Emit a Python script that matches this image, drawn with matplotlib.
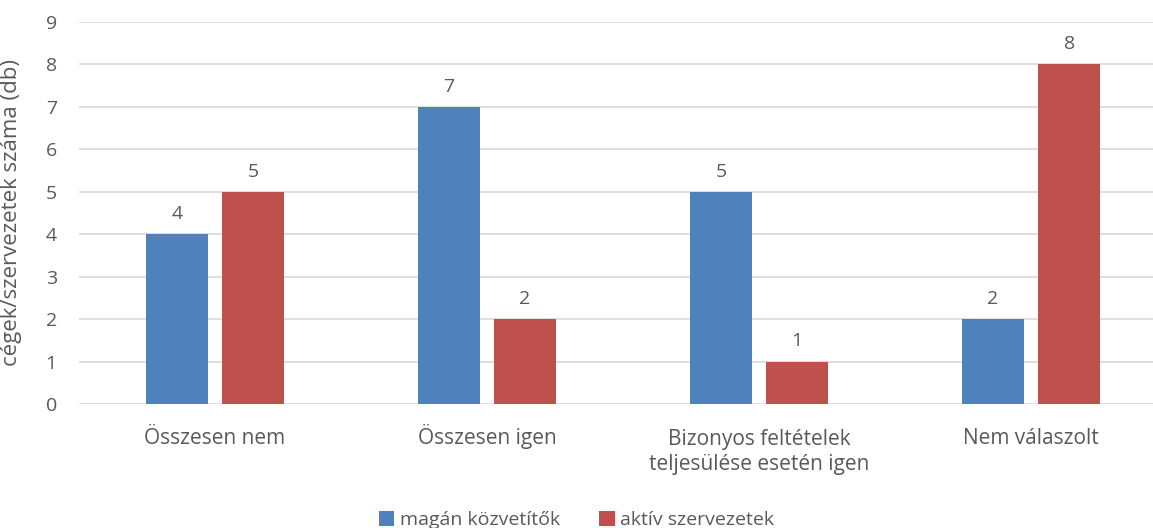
import matplotlib
matplotlib.use("Agg")
import matplotlib.pyplot as plt
import matplotlib.transforms as mtransforms
import numpy as np

categories = ["Összesen nem", "Összesen igen",
              "Bizonyos feltételek\nteljesülése esetén igen", "Nem válaszolt"]
magan = [4, 7, 5, 2]
aktiv = [5, 2, 1, 8]
series_names = ["magán közvetítők", "aktív szervezetek"]

plt.rcParams["font.family"] = ["Open Sans", "DejaVu Sans"]
text_color = "#595959"

fig = plt.figure(figsize=(11.53, 5.28), dpi=100)
ax = fig.add_axes([79 / 1153, 124 / 528, (1153 - 79) / 1153, 382 / 528])

x = np.arange(len(categories))
w = 0.225
b1 = ax.bar(x - 0.14, magan, w, color="#4F81BD", label=series_names[0], zorder=3)
b2 = ax.bar(x + 0.14, aktiv, w, color="#C0504D", label=series_names[1], zorder=3)
for bars in (b1, b2):
    ax.bar_label(bars, padding=8, fontsize=14, color=text_color)

ax.set_xlim(-0.5, -0.5 + 1074 / 272)
ax.set_ylim(0, 9)
ax.set_yticks(range(10))
ax.set_xticks(x)
ax.set_xticklabels([])
ax.tick_params(axis="y", labelsize=14, labelcolor=text_color, length=0, pad=16)
ax.tick_params(axis="x", length=0)
ax.grid(axis="y", color="#D9D9D9", linewidth=1.2, zorder=0)
for s in ax.spines.values():
    s.set_visible(False)

# category labels, first lines sharing one baseline
for xi, cat in zip(x, categories):
    nlines = cat.count("\n") + 1
    tr = mtransforms.offset_copy(ax.get_xaxis_transform(), fig=fig,
                                 y=-(28.8 + 18.7 * (nlines - 1)), units="points")
    ax.text(xi, 0, cat, transform=tr, ha="center", va="baseline", fontsize=15,
            color=text_color, linespacing=1.25, multialignment="center")

ax.set_ylabel("cégek/szervezetek száma (db)", fontsize=16, color=text_color)
ax.yaxis.set_label_coords(-57 / 1074, 0.5)

fig.legend(loc="lower center", bbox_to_anchor=(0.5, -0.035), ncol=2, frameon=False,
           fontsize=14, labelcolor=text_color, handlelength=0.8, handleheight=0.8,
           handletextpad=0.3, columnspacing=2.0)

fig.savefig("out.png", dpi=100)
